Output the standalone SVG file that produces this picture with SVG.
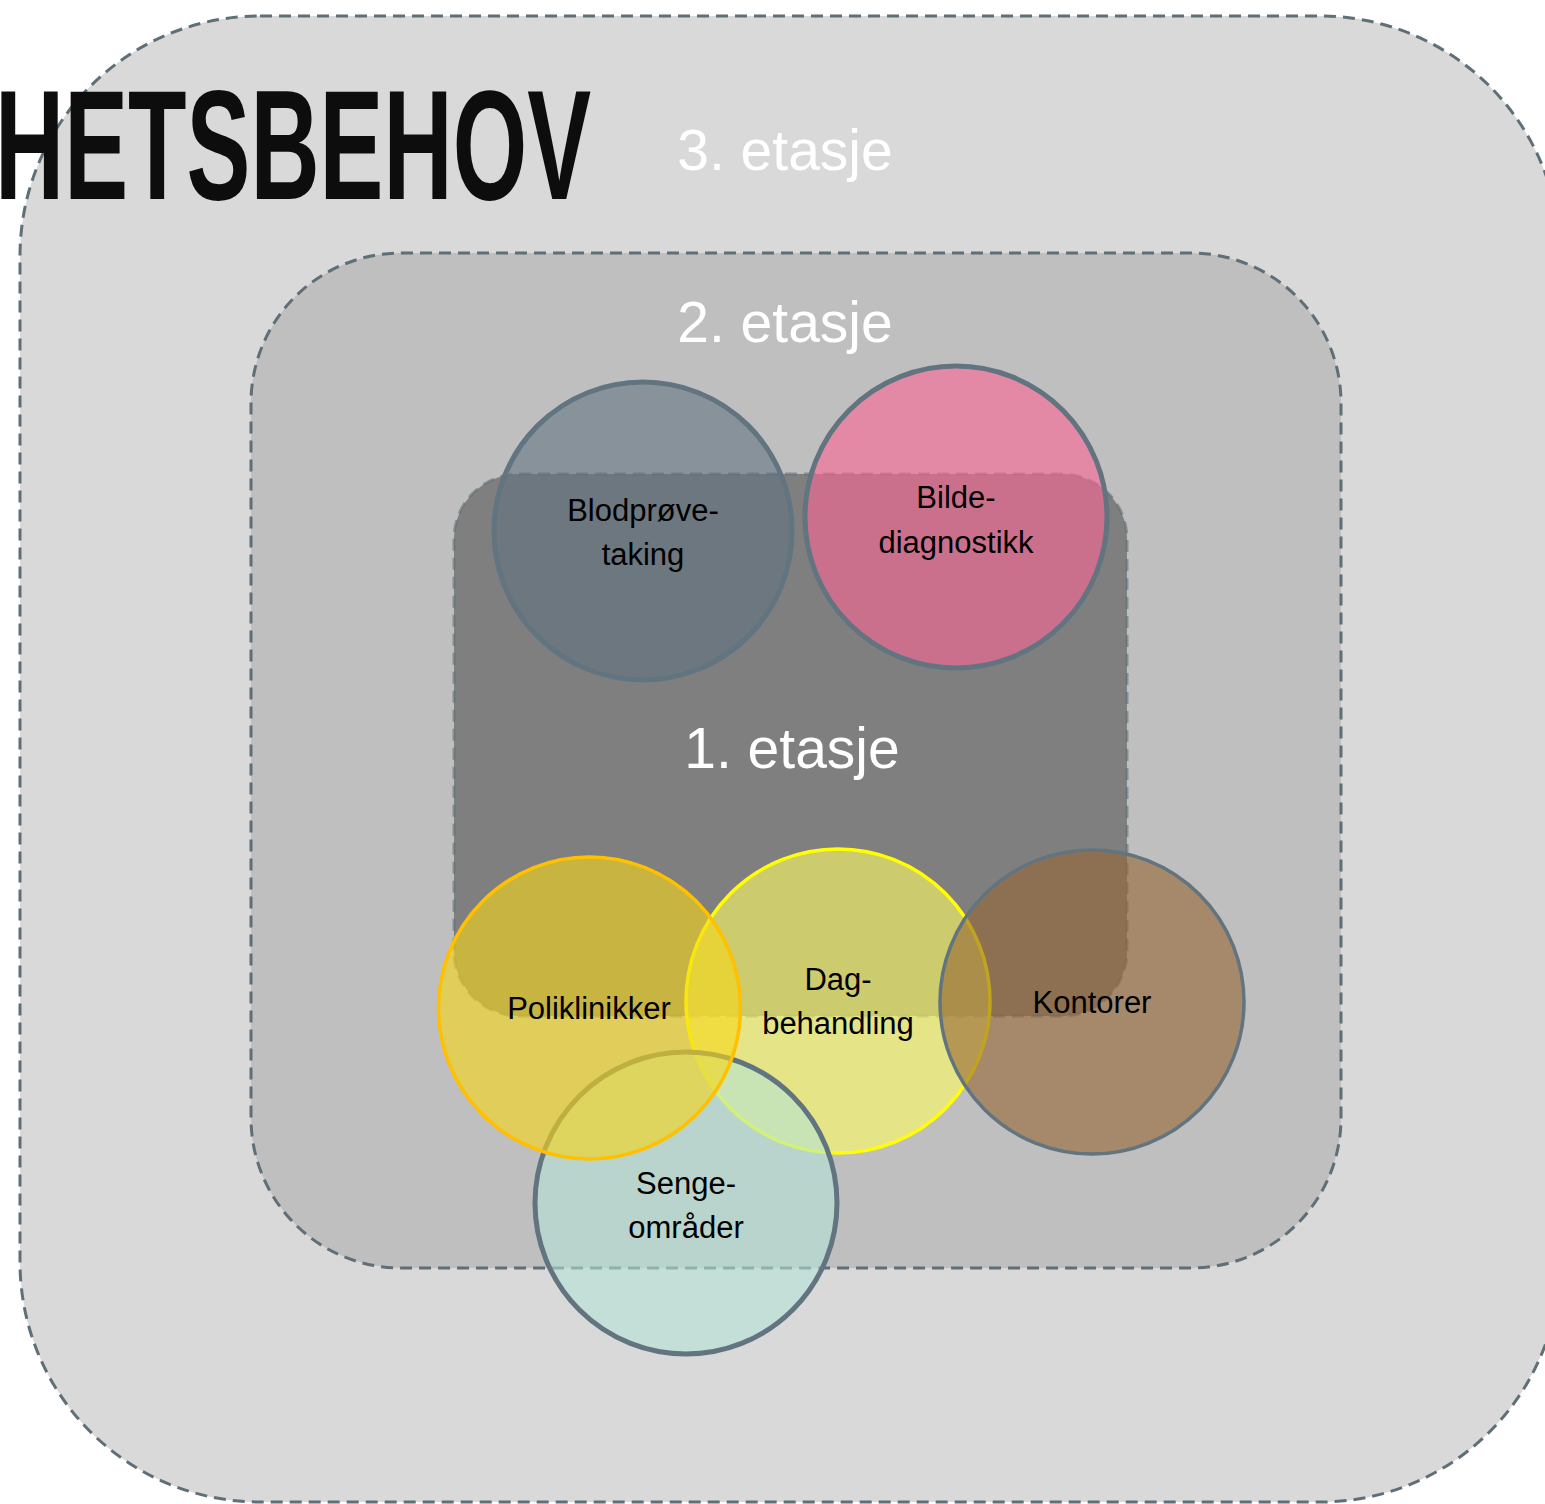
<svg xmlns="http://www.w3.org/2000/svg" width="1545" height="1504" viewBox="0 0 1545 1504">
  <style>
    .floor { stroke: #5f6f78; stroke-width: 3; stroke-dasharray: 12 7; }
    .floorlabel { font-family: "Liberation Sans", Arial, sans-serif; font-size: 57px; fill: #ffffff; text-anchor: middle; }
    .lbl { font-family: "Liberation Sans", Arial, sans-serif; font-size: 31px; fill: #000000; text-anchor: middle; }
    .ring { stroke: #627480; stroke-width: 5; }
  </style>
  <rect width="1545" height="1504" fill="#ffffff"/>
  <g id="floor3">
    <rect class="floor" x="20" y="16" width="1540" height="1486" rx="240" ry="240" fill="#d9d9d9"/>
    <text class="floorlabel" x="785" y="170">3. etasje</text>
  </g>
  <g id="title">
    <text transform="translate(-5,199) scale(0.618,1)" x="0" y="0" font-family="'Liberation Sans', Arial, sans-serif" font-size="155" font-weight="bold" fill="#0d0d0d">HETSBEHOV</text>
  </g>
  <g id="floor2">
    <rect class="floor" x="251" y="253" width="1090" height="1015" rx="150" ry="150" fill="#bfbfbf"/>
    <text class="floorlabel" x="785" y="342">2. etasje</text>
  </g>
  <g id="floor1">
    <rect x="454" y="474" width="673" height="542" rx="65" ry="65" fill="#7f7f7f" stroke="#5f6f78" stroke-opacity="0.6" stroke-width="3" stroke-dasharray="12 7"/>
    <text class="floorlabel" x="792" y="768">1. etasje</text>
  </g>
  <g id="connectors"></g>
  <g id="dagbehandling">
    <circle cx="838" cy="1001" r="152" fill="rgb(253,251,99)" fill-opacity="0.61" stroke="#ffff00" stroke-width="3.5"/>
    <text class="lbl" x="838" y="990">Dag-</text>
    <text class="lbl" x="838" y="1034">behandling</text>
  </g>
  <g id="sengeomrader">
    <circle class="ring" cx="686" cy="1203" r="151" fill="rgb(179,228,214)" fill-opacity="0.58"/>
    <text class="lbl" x="686" y="1194">Senge-</text>
    <text class="lbl" x="686" y="1238">områder</text>
  </g>
  <g id="poliklinikker">
    <circle cx="589.5" cy="1008" r="151" fill="rgb(247,214,25)" fill-opacity="0.61" stroke="#ffc000" stroke-width="3.5"/>
    <text class="lbl" x="589" y="1019">Poliklinikker</text>
  </g>
  <g id="kontorer">
    <circle cx="1092" cy="1002" r="152" fill="rgb(150,102,52)" fill-opacity="0.6" stroke="#627480" stroke-width="3.5"/>
    <text class="lbl" x="1092" y="1013">Kontorer</text>
  </g>
  <g id="blodprovetaking">
    <circle class="ring" cx="643" cy="531" r="149" fill="rgb(96,113,127)" fill-opacity="0.58"/>
    <text class="lbl" x="643" y="521">Blodprøve-</text>
    <text class="lbl" x="643" y="565">taking</text>
  </g>
  <g id="bildediagnostikk">
    <circle class="ring" cx="956" cy="517" r="151" fill="rgb(248,103,149)" fill-opacity="0.62"/>
    <text class="lbl" x="956" y="508">Bilde-</text>
    <text class="lbl" x="956" y="553">diagnostikk</text>
  </g>
</svg>
